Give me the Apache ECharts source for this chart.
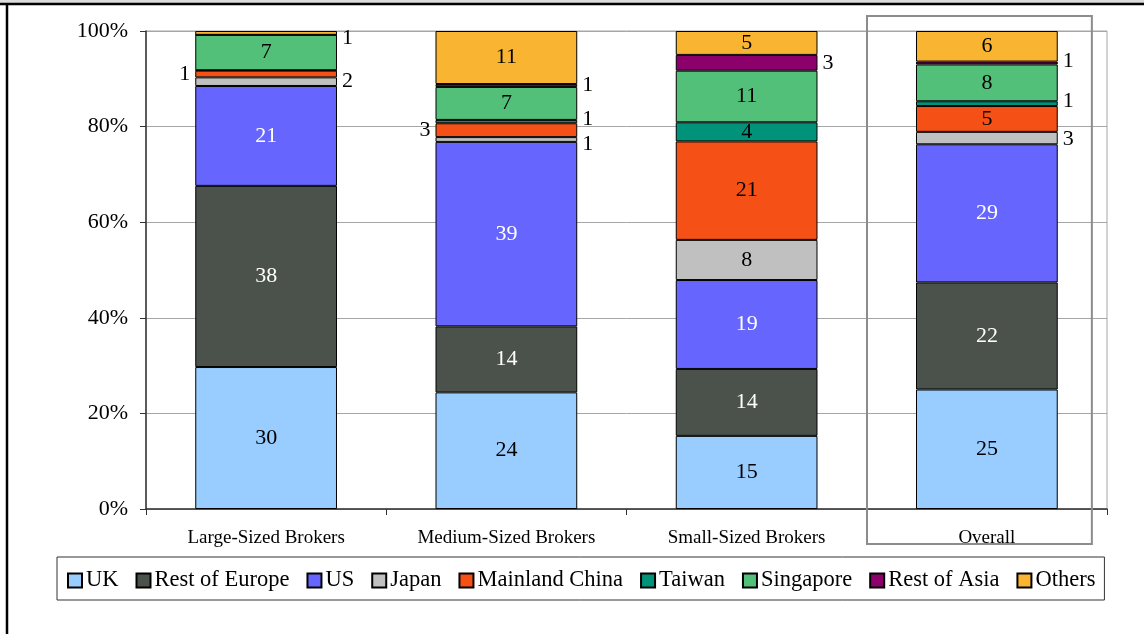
<!DOCTYPE html>
<html>
<head>
<meta charset="utf-8">
<script src="https://cdn.jsdelivr.net/npm/echarts@6/dist/echarts.min.js"></script>
<style>
html,body{margin:0;padding:0;background:#fff;}
#chart{width:1144px;height:634px;}
</style>
</head>
<body>
<div id="chart"></div>
<script>
// ---- data ----
const categories = ['Large-Sized Brokers', 'Medium-Sized Brokers', 'Small-Sized Brokers', 'Overall'];
const seriesNames = ['UK', 'Rest of Europe', 'US', 'Japan', 'Mainland China', 'Taiwan', 'Singapore', 'Rest of Asia', 'Others'];
const uk            = [29.7, 24.4, 15.3, 25.0];
const restOfEurope  = [37.9, 13.8, 14.0, 22.4];
const us            = [20.9, 38.6, 18.6, 28.9];
const japan         = [1.8, 1.0, 8.4, 2.6];
const mainlandChina = [1.4, 2.9, 20.6, 5.4];
const taiwan        = [0.1, 0.7, 4.0, 1.0];
const singapore     = [7.4, 6.9, 10.8, 7.7];
const restOfAsia    = [0.0, 0.6, 3.3, 0.6];
const others        = [0.8, 11.1, 5.0, 6.4];
const yTicks = [0, 20, 40, 60, 80, 100];

const seriesData = [uk, restOfEurope, us, japan, mainlandChina, taiwan, singapore, restOfAsia, others];

// ---- styling ----
const colors = ['#99CCFF', '#4B524B', '#6666FF', '#C0C0C0', '#F55117', '#00937A', '#53C07A', '#8B006B', '#F9B532'];
const labelColors = ['#000', '#fff', '#fff', '#000', '#000', '#000', '#000', '#000', '#000'];
// label placement per series per category: in / right / left
const placement = [
  ['in', 'in', 'in', 'in'],
  ['in', 'in', 'in', 'in'],
  ['in', 'in', 'in', 'in'],
  ['right', 'right', 'in', 'right'],
  ['left', 'left', 'in', 'in'],
  ['right', 'right', 'in', 'right'],
  ['in', 'in', 'in', 'in'],
  ['right', 'right', 'right', 'right'],
  ['right', 'in', 'in', 'in']
];
const dyOffset = [
  [0, 0, 0, 0], [0, 0, 0, 0], [0, 0, 0, 0],
  [0, 5, 0, 1], [0, 0, 0, 0], [0, -2, 0, -2],
  [0, 0, 0, 0], [0, 0, 0, -2], [5, 0, 0, 0]
];

const FONT = '"Liberation Serif", "Times New Roman", serif';

const series = seriesNames.map((name, si) => ({
  name: name,
  type: 'bar',
  stack: 'total',
  barCategoryGap: '41%',
  itemStyle: { color: colors[si], borderColor: '#000', borderWidth: 1 },
  emphasis: { disabled: true },
  data: seriesData[si].map((v, ci) => {
    const pos = placement[si][ci];
    const show = Math.round(v) > 0;
    return {
      value: v,
      label: {
        show: show,
        position: pos === 'in' ? 'inside' : pos,
        distance: 5,
        offset: [0, dyOffset[si][ci]],
        color: pos === 'in' ? labelColors[si] : '#000',
        fontFamily: FONT,
        fontSize: 22,
        formatter: p => String(Math.round(p.value))
      }
    };
  })
}));

const chart = echarts.init(document.getElementById('chart'), null, { renderer: 'canvas' });

const option = {
  animation: false,
  backgroundColor: '#fff',
  grid: {
    left: 146, right: 37, top: 31, bottom: 125,
    show: true, borderColor: '#a6a6a6', borderWidth: 1, backgroundColor: 'transparent'
  },
  legend: {
    data: seriesNames,
    left: 57, top: 557,
    padding: [12, 9, 8, 10],
    itemGap: 17,
    itemWidth: 14, itemHeight: 14,
    borderColor: '#333', borderWidth: 1,
    backgroundColor: '#fff',
    selectedMode: false,
    textStyle: { fontFamily: FONT, fontSize: 22.5, color: '#000', padding: [0, 0, 0, -1] },
    icon: 'rect'
  },
  xAxis: {
    type: 'category',
    data: categories,
    axisLine: { lineStyle: { color: '#333', width: 1.5 } },
    axisTick: { show: true, inside: false, length: 6, lineStyle: { color: '#333' } },
    axisLabel: { fontFamily: FONT, fontSize: 19, color: '#000', margin: 20 },
    splitLine: { show: false }
  },
  yAxis: {
    type: 'value',
    min: 0, max: 100, interval: 20,
    axisLine: { show: true, lineStyle: { color: '#333', width: 1.5 } },
    axisTick: { show: true, inside: false, length: 6, lineStyle: { color: '#333' } },
    axisLabel: {
      fontFamily: FONT, fontSize: 22, color: '#000', margin: 18,
      formatter: v => yTicks.indexOf(v) >= 0 ? v + '%' : ''
    },
    splitLine: { show: true, lineStyle: { color: '#a6a6a6', width: 1 } }
  },
  series: series
};

chart.setOption(option);

// Overall highlight box & page frame, positioned from the axes
const cOverall = chart.convertToPixel({ xAxisIndex: 0 }, categories[3]);
const cSmall = chart.convertToPixel({ xAxisIndex: 0 }, categories[2]);
const band = cOverall - cSmall;
const y100 = chart.convertToPixel({ yAxisIndex: 0 }, 100);
const y0 = chart.convertToPixel({ yAxisIndex: 0 }, 0);
const halfW = band * 0.468;
const boxC = cOverall - band * 0.031;

chart.setOption({
  graphic: [
    { type: 'rect', z: 100, shape: { x: 0, y: 0, width: 1144, height: 3 }, style: { fill: '#dcdcdc' } },
    { type: 'line', z: 100, shape: { x1: 0, y1: 4, x2: 1144, y2: 4 }, style: { stroke: '#000', lineWidth: 2.5 } },
    { type: 'line', z: 100, shape: { x1: 7, y1: 4, x2: 7, y2: 634 }, style: { stroke: '#000', lineWidth: 2.5 } },
    {
      type: 'rect', z: 100,
      shape: { x: boxC - halfW, y: y100 - 15, width: halfW * 2, height: (y0 + 35) - (y100 - 15) },
      style: { fill: 'none', stroke: '#8c8c8c', lineWidth: 2 }
    }
  ]
});
</script>
</body>
</html>
